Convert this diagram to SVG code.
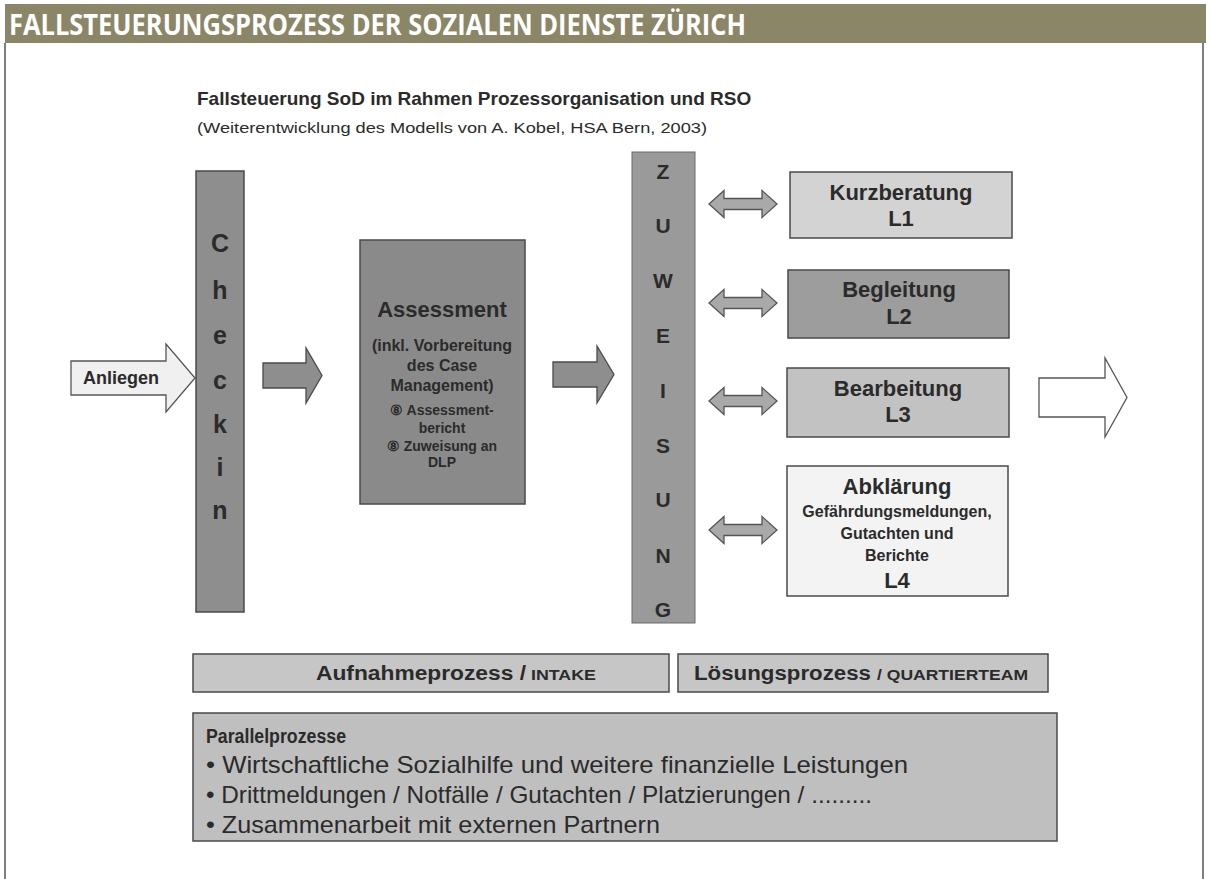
<svg xmlns="http://www.w3.org/2000/svg" width="1211" height="879" viewBox="0 0 1211 879">
<style>
.b{font-family:"Liberation Sans",Arial,sans-serif;font-weight:bold;fill:#2b2b2b}
.r{font-family:"Liberation Sans",Arial,sans-serif;fill:#2b2b2b}
.c{text-anchor:middle}
.box{stroke:#4a4a4a;stroke-width:1.5}
.arr{fill:#8e8e8e;stroke:#4a4a4a;stroke-width:1.3}
.dbl{fill:#a9a9a9;stroke:#555;stroke-width:1.3}
</style>
<rect width="1211" height="879" fill="#ffffff"/>
<g id="header">
<rect x="5" y="4" width="1201" height="39" fill="#8c8668"/>
<text x="9" y="35" font-family="'Open Sans',sans-serif" font-weight="bold" font-size="29" fill="#ffffff" textLength="737" lengthAdjust="spacingAndGlyphs">FALLSTEUERUNGSPROZESS DER SOZIALEN DIENSTE ZÜRICH</text>
<path d="M5 43 V879 M1203 43 V879" stroke="#555" stroke-width="1.5" fill="none"/>
</g>
<g id="title">
<text class="b" x="197" y="105" font-size="19" fill="#333">Fallsteuerung SoD im Rahmen Prozessorganisation und RSO</text>
<text class="r" x="197" y="133" font-size="14.5" textLength="510" lengthAdjust="spacingAndGlyphs">(Weiterentwicklung des Modells von A. Kobel, HSA Bern, 2003)</text>
</g>
<g id="anliegen">
<polygon points="71,361 166,361 166,344 195,378 166,412 166,395 71,395" fill="#f0f0f0" stroke="#555" stroke-width="1.3"/>
<text class="b c" x="121" y="384" font-size="18">Anliegen</text>
</g>
<g id="checkin">
<rect class="box" x="196" y="171" width="48" height="441" fill="#8e8e8e"/>
<g class="b c" font-size="25" fill="#262626">
<text x="220" y="252">C</text><text x="220" y="299">h</text><text x="220" y="344">e</text><text x="220" y="389">c</text><text x="220" y="433">k</text><text x="220" y="476">i</text><text x="220" y="519">n</text>
</g>
</g>
<g id="assessment">
<rect class="box" x="360" y="240" width="165" height="264" fill="#8a8a8a"/>
<text class="b c" x="442" y="317" font-size="22">Assessment</text>
<g class="b c" font-size="16">
<text x="442" y="351">(inkl. Vorbereitung</text><text x="442" y="371">des Case</text><text x="442" y="391">Management)</text>
</g>
<g class="b c" font-size="14" fill="#333">
<text x="442" y="415">⑧ Assessment-</text><text x="442" y="433">bericht</text><text x="442" y="451">⑧ Zuweisung an</text><text x="442" y="467">DLP</text>
</g>
</g>
<g id="zuweisung">
<rect x="632" y="152" width="63" height="471" fill="#9a9a9a" stroke="#6a6a6a" stroke-width="1"/>
<g class="b c" font-size="21" fill="#333">
<text x="663" y="179">Z</text><text x="663" y="233">U</text><text x="663" y="288">W</text><text x="663" y="343">E</text><text x="663" y="398">I</text><text x="663" y="453">S</text><text x="663" y="507">U</text><text x="663" y="563">N</text><text x="663" y="617">G</text>
</g>
</g>
<g id="kurzberatung">
<rect class="box" x="790" y="172" width="222" height="66" fill="#d3d3d3"/>
<text class="b c" x="901" y="200" font-size="22">Kurzberatung</text>
<text class="b c" x="901" y="226" font-size="22">L1</text>
</g>
<g id="begleitung">
<rect class="box" x="788" y="270" width="221" height="68" fill="#9d9d9d"/>
<text class="b c" x="899" y="297" font-size="22">Begleitung</text>
<text class="b c" x="899" y="324" font-size="22">L2</text>
</g>
<g id="bearbeitung">
<rect class="box" x="787" y="368" width="222" height="69" fill="#c2c2c2"/>
<text class="b c" x="898" y="396" font-size="22">Bearbeitung</text>
<text class="b c" x="898" y="422" font-size="22">L3</text>
</g>
<g id="abklaerung">
<rect class="box" x="787" y="466" width="221" height="130" fill="#f3f3f3"/>
<text class="b c" x="897" y="494" font-size="22">Abklärung</text>
<g class="b c" font-size="16">
<text x="897" y="517">Gefährdungsmeldungen,</text><text x="897" y="539">Gutachten und</text><text x="897" y="561">Berichte</text>
</g>
<text class="b c" x="897" y="588" font-size="22">L4</text>
</g>
<g id="aufnahme">
<rect class="box" x="193" y="654" width="476" height="38" fill="#c6c6c6"/>
<text class="b" x="316" y="680" font-size="20"><tspan textLength="210" lengthAdjust="spacingAndGlyphs">Aufnahmeprozess /</tspan><tspan x="531" font-size="15" textLength="65" lengthAdjust="spacingAndGlyphs">INTAKE</tspan></text>
</g>
<g id="loesung">
<rect class="box" x="678" y="654" width="370" height="38" fill="#c6c6c6"/>
<text class="b" x="694" y="680" font-size="20"><tspan textLength="177" lengthAdjust="spacingAndGlyphs">Lösungsprozess</tspan><tspan x="877" font-size="15" textLength="151" lengthAdjust="spacingAndGlyphs">/ QUARTIERTEAM</tspan></text>
</g>
<g id="parallel">
<rect class="box" x="193" y="713" width="864" height="128" fill="#bfbfbf"/>
<text class="b" x="206" y="743" font-size="20" textLength="140" lengthAdjust="spacingAndGlyphs">Parallelprozesse</text>
<text class="r" x="206" y="773" font-size="24" textLength="702" lengthAdjust="spacingAndGlyphs">• Wirtschaftliche Sozialhilfe und weitere finanzielle Leistungen</text>
<text class="r" x="206" y="803" font-size="24" textLength="666" lengthAdjust="spacingAndGlyphs">• Drittmeldungen / Notfälle / Gutachten / Platzierungen / .........</text>
<text class="r" x="206" y="833" font-size="24" textLength="454" lengthAdjust="spacingAndGlyphs">• Zusammenarbeit mit externen Partnern</text>
</g>
<g id="connectors">
<polygon class="arr" points="263,363 306,363 306,348 322,375.5 306,403 306,388 263,388"/>
<polygon class="arr" points="553,362 597,362 597,346 614,374.5 597,403 597,387 553,387"/>
<polygon class="dbl" points="709,204 724,190.5 724,198.5 762,198.5 762,190.5 777,204 762,217.5 762,209.5 724,209.5 724,217.5"/>
<polygon class="dbl" points="709,303 724,289.5 724,297.5 762,297.5 762,289.5 777,303 762,316.5 762,308.5 724,308.5 724,316.5"/>
<polygon class="dbl" points="709,401 724,387.5 724,395.5 762,395.5 762,387.5 777,401 762,414.5 762,406.5 724,406.5 724,414.5"/>
<polygon class="dbl" points="709,530 724,516.5 724,524.5 762,524.5 762,516.5 777,530 762,543.5 762,535.5 724,535.5 724,543.5"/>
<polygon points="1039,378 1105,378 1105,358 1127,397.5 1105,437 1105,417 1039,417" fill="#ffffff" stroke="#555" stroke-width="1.3"/>
</g>
</svg>
